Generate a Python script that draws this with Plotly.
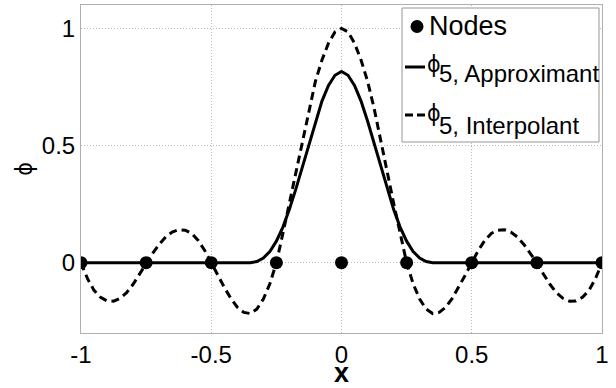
import plotly.graph_objects as go

# Sample positions along x for the two basis-function curves
x_curve = [
    -1.0, -0.975, -0.95, -0.925, -0.9, -0.875, -0.85, -0.825, -0.8, -0.775,
    -0.75, -0.725, -0.7, -0.675, -0.65, -0.625, -0.6, -0.575, -0.55, -0.525,
    -0.5, -0.475, -0.45, -0.425, -0.4, -0.375, -0.35, -0.325, -0.3, -0.275,
    -0.25, -0.225, -0.2, -0.175, -0.15, -0.125, -0.1, -0.075, -0.05, -0.025,
    0.0,
    0.025, 0.05, 0.075, 0.1, 0.125, 0.15, 0.175, 0.2, 0.225, 0.25,
    0.275, 0.3, 0.325, 0.35, 0.375, 0.4, 0.425, 0.45, 0.475, 0.5,
    0.525, 0.55, 0.575, 0.6, 0.625, 0.65, 0.675, 0.7, 0.725, 0.75,
    0.775, 0.8, 0.825, 0.85, 0.875, 0.9, 0.925, 0.95, 0.975, 1.0,
]

# phi_5 approximant (compactly supported bump)
phi_approx = [
    0.0, 0.0, 0.0, 0.0, 0.0, 0.0, 0.0, 0.0, 0.0, 0.0,
    0.0, 0.0, 0.0, 0.0, 0.0, 0.0, 0.0, 0.0, 0.0, 0.0,
    0.0, 0.0, 0.0, 0.0, 0.0, 0.0, 0.0, 0.005, 0.02, 0.048,
    0.092, 0.152, 0.228, 0.315, 0.41, 0.51, 0.605, 0.69, 0.757, 0.8,
    0.816,
    0.8, 0.757, 0.69, 0.605, 0.51, 0.41, 0.315, 0.228, 0.152, 0.092,
    0.048, 0.02, 0.005, 0.0, 0.0, 0.0, 0.0, 0.0, 0.0, 0.0,
    0.0, 0.0, 0.0, 0.0, 0.0, 0.0, 0.0, 0.0, 0.0, 0.0,
    0.0, 0.0, 0.0, 0.0, 0.0, 0.0, 0.0, 0.0, 0.0, 0.0,
]

# phi_5 interpolant (oscillating, zero at the other nodes)
phi_interp = [
    0.0, -0.068, -0.118, -0.148, -0.163, -0.164, -0.152, -0.128, -0.092, -0.048,
    0.0, 0.04, 0.078, 0.11, 0.131, 0.141, 0.139, 0.125, 0.095, 0.052,
    0.0, -0.053, -0.105, -0.152, -0.19, -0.212, -0.217, -0.198, -0.155, -0.09,
    0.0, 0.125, 0.255, 0.39, 0.53, 0.66, 0.775, 0.865, 0.937, 0.985,
    1.0,
    0.985, 0.937, 0.865, 0.775, 0.66, 0.53, 0.39, 0.255, 0.125, 0.0,
    -0.09, -0.155, -0.198, -0.217, -0.212, -0.19, -0.152, -0.105, -0.053, 0.0,
    0.052, 0.095, 0.125, 0.139, 0.141, 0.131, 0.11, 0.078, 0.04, 0.0,
    -0.048, -0.092, -0.128, -0.152, -0.164, -0.163, -0.148, -0.118, -0.068, 0.0,
]

# Nodes
x_nodes = [-1.0, -0.75, -0.5, -0.25, 0.0, 0.25, 0.5, 0.75, 1.0]
y_nodes = [0, 0, 0, 0, 0, 0, 0, 0, 0]

x_ticks = [-1, -0.5, 0, 0.5, 1]
x_tick_labels = ["-1", "-0.5", "0", "0.5", "1"]
y_ticks = [0, 0.5, 1]
y_tick_labels = ["0", "0.5", "1"]

# Legend entries: main symbol text and subscript text
legend_main = ["Nodes", "ϕ", "ϕ"]
legend_sub = ["", "5, Approximant", "5, Interpolant"]

FONT = "Liberation Sans, Arial, Helvetica, sans-serif"
PHI_FONT = "DejaVu Sans Condensed, DejaVu Sans, sans-serif"
GRID = "rgb(185,185,185)"
FRAME = "rgb(175,175,175)"

# Figure / plot-area geometry in pixels
W, H = 616, 388
ML, MR, MT, MB = 81, 14, 5, 55
PW, PH = W - ML - MR, H - MT - MB


def px_x(px):
    """Pixel column -> paper x."""
    return (px - ML) / PW


def px_y(py):
    """Pixel row -> paper y."""
    return (H - MB - py) / PH


fig = go.Figure()

fig.add_trace(go.Scatter(
    x=x_curve, y=phi_approx, mode="lines", showlegend=False,
    line=dict(color="black", width=3),
))
fig.add_trace(go.Scatter(
    x=x_curve, y=phi_interp, mode="lines", showlegend=False,
    line=dict(color="black", width=3, dash="8px,5px"),
))
fig.add_trace(go.Scatter(
    x=x_nodes, y=y_nodes, mode="markers", showlegend=False,
    marker=dict(color="black", size=13),
))

# Legend box drawn above the grid
shapes = [
    dict(type="rect", xref="paper", yref="paper", layer="above",
         x0=px_x(402), x1=px_x(599), y0=px_y(142), y1=px_y(8),
         fillcolor="white", line=dict(color="rgb(150,150,150)", width=1)),
    # node symbol
    dict(type="circle", xref="paper", yref="paper", layer="above",
         x0=px_x(410.5), x1=px_x(423.5), y0=px_y(33), y1=px_y(20),
         fillcolor="black", line=dict(color="black", width=0)),
    # solid line sample
    dict(type="line", xref="paper", yref="paper", layer="above",
         x0=px_x(405), x1=px_x(425), y0=px_y(67), y1=px_y(67),
         line=dict(color="black", width=3)),
    # dashed line sample
    dict(type="line", xref="paper", yref="paper", layer="above",
         x0=px_x(405), x1=px_x(425), y0=px_y(115), y1=px_y(115),
         line=dict(color="black", width=3, dash="8px,4px")),
]


def legend_text(text, px, py, size, family=FONT):
    return dict(text=text, xref="paper", yref="paper",
                x=px_x(px), y=px_y(py), xanchor="left", yanchor="middle",
                showarrow=False, font=dict(family=family, size=size, color="black"))


annotations = [
    legend_text(legend_main[0], 427, 26, 27),
    legend_text(legend_main[1], 425, 64, 23, PHI_FONT),
    legend_text(legend_sub[1], 437, 74, 24),
    legend_text(legend_main[2], 425, 113, 23, PHI_FONT),
    legend_text(legend_sub[2], 437, 125, 24),
]

fig.update_layout(
    width=W, height=H,
    margin=dict(l=ML, r=MR, t=MT, b=MB, autoexpand=False),
    paper_bgcolor="white", plot_bgcolor="white",
    font=dict(family=FONT, size=24, color="black"),
    showlegend=False,
    shapes=shapes,
    annotations=annotations,
    xaxis=dict(
        range=[-1, 1], tickvals=x_ticks, ticktext=x_tick_labels,
        showgrid=True, gridcolor=GRID, griddash="1px,2px", gridwidth=1,
        zeroline=False, showline=True, linecolor=FRAME, linewidth=1, mirror=True,
        ticks="", tickfont=dict(size=24), ticklabelstandoff=0, automargin=False,
        title=dict(text="<b>x</b>", font=dict(size=27), standoff=0),
    ),
    yaxis=dict(
        range=[-0.3, 1.1], tickvals=y_ticks, ticktext=y_tick_labels,
        showgrid=True, gridcolor=GRID, griddash="1px,2px", gridwidth=1,
        zeroline=False, showline=True, linecolor=FRAME, linewidth=1, mirror=True,
        ticks="", tickfont=dict(size=24), automargin=False,
        title=dict(text="ϕ", font=dict(family=PHI_FONT, size=23), standoff=2),
    ),
)

fig.write_html("out.html")
